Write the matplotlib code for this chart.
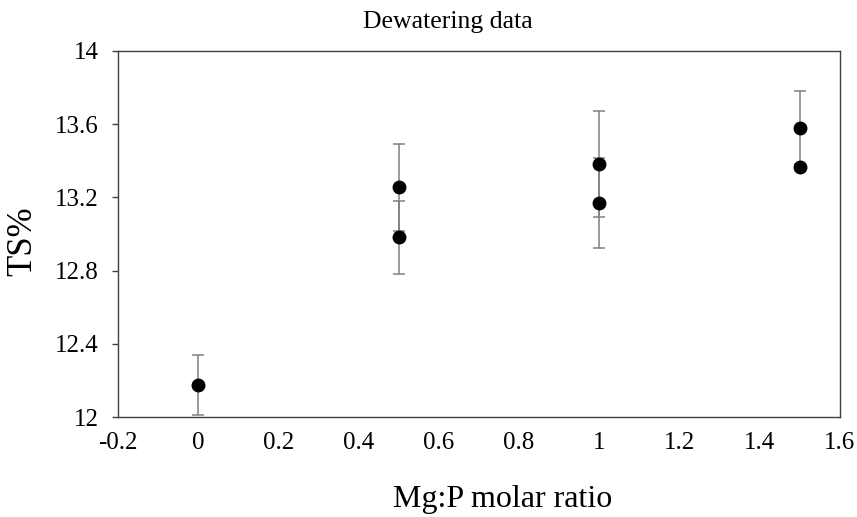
import matplotlib.pyplot as plt
import numpy as np

# Mg:P molar ratio vs TS% (two replicates per ratio, one at 0)
ratio = [0, 0.5, 0.5, 1, 1, 1.5, 1.5]
ts = [12.175, 13.255, 12.982, 13.381, 13.168, 13.581, 13.364]
ts_err = [0.165, 0.236, 0.200, 0.290, 0.246, 0.200, 0.015]

x_ticks = [-0.2, 0, 0.2, 0.4, 0.6, 0.8, 1, 1.2, 1.4, 1.6]
x_labels = ["-0.2", "0", "0.2", "0.4", "0.6", "0.8", "1", "1.2", "1.4", "1.6"]
y_ticks = [12, 12.4, 12.8, 13.2, 13.6, 14]
y_labels = ["12", "12.4", "12.8", "13.2", "13.6", "14"]

plt.rcParams['font.family'] = ['Liberation Serif', 'DejaVu Serif']

fig = plt.figure(figsize=(8.57, 5.17), dpi=100)
ax = fig.add_axes([0.1377, 0.1934, 0.8423, 0.708])

ax.errorbar(ratio, ts, yerr=ts_err, fmt='o', color='black', markersize=9,
            ecolor='#808080', elinewidth=1.1, capsize=4.3, capthick=1.1,
            zorder=3)

ax.set_xlim(-0.2, 1.6)
ax.set_ylim(12, 14)
ax.set_xticks(x_ticks)
ax.set_xticklabels(x_labels)
ax.set_yticks(y_ticks)
ax.set_yticklabels(y_labels)
ax.tick_params(axis='x', length=0, pad=11, labelsize=18)
ax.tick_params(axis='y', length=4, width=1, color='#404040', pad=10,
               labelsize=18, direction='out')

for side in ['left', 'right', 'top', 'bottom']:
    ax.spines[side].set_color('#404040')
    ax.spines[side].set_linewidth(1.0)

fig.text(448 / 857, 1 - 22 / 517, "Dewatering data", ha='center', va='center',
         fontsize=18.5)
fig.text(503 / 857, 1 - 500 / 517, "Mg:P molar ratio", ha='center',
         va='center', fontsize=23)
fig.text(23 / 857, 1 - 241 / 517, "TS%", ha='center', va='center',
         rotation=90, fontsize=25)

fig.savefig("out.png", dpi=100)
